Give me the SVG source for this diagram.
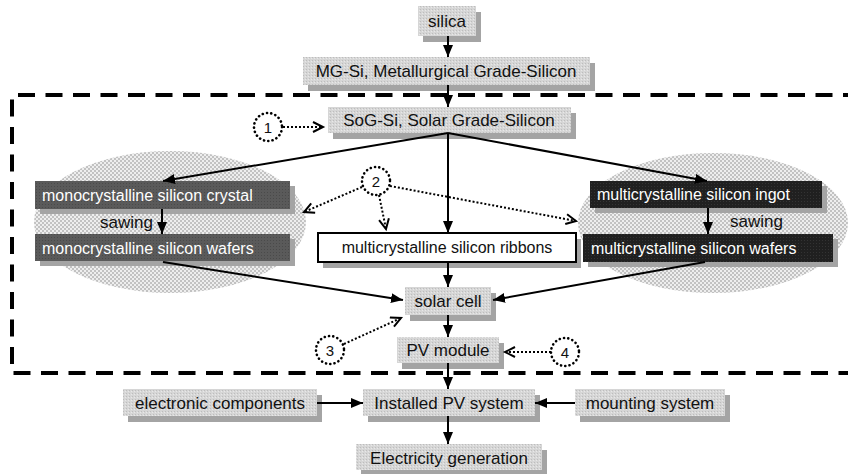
<svg xmlns="http://www.w3.org/2000/svg" width="848" height="474" viewBox="0 0 848 474">
<style>
text{font-family:"Liberation Sans",Arial,sans-serif;font-size:17px;fill:#111}
.m{text-anchor:middle}
.w{fill:#fff;font-size:16px}
.s16{font-size:16px}
.sh{fill:#a4a4a4}
.g{fill:url(#tex)}
.c{stroke:#000;stroke-width:2;fill:none}
.d{stroke:#000;stroke-width:2;stroke-dasharray:2 2;fill:none}
.circ{stroke:#000;stroke-width:2.6;stroke-dasharray:0.1 4.2;stroke-linecap:round;fill:#fff}
.num{font-size:15px}
</style>
<defs>
<pattern id="tex" width="3" height="3" patternUnits="userSpaceOnUse">
<rect width="3" height="3" fill="#d6d6d6"/><rect width="1" height="1" fill="#bdbdbd"/><rect x="2" y="1" width="1" height="1" fill="#e8e8e8"/>
</pattern>
<pattern id="ell" width="4" height="4" patternUnits="userSpaceOnUse">
<rect width="4" height="4" fill="#eeeeee"/><circle cx="1" cy="1" r="1" fill="#b4b4b4"/><circle cx="3" cy="3" r="1" fill="#b4b4b4"/>
</pattern>
<pattern id="dk1" width="3" height="3" patternUnits="userSpaceOnUse">
<rect width="3" height="3" fill="#5a5a5a"/><rect width="1" height="1" fill="#4a4a4a"/>
</pattern>
<pattern id="dk2" width="3" height="3" patternUnits="userSpaceOnUse">
<rect width="3" height="3" fill="#202020"/><rect width="1" height="1" fill="#333"/>
</pattern>
<marker id="ah" markerUnits="userSpaceOnUse" markerWidth="13" markerHeight="11" refX="12" refY="5" orient="auto">
<path d="M0,0 L12,5 L0,10 z" fill="#000"/>
</marker>
<marker id="oh" markerUnits="userSpaceOnUse" markerWidth="14" markerHeight="14" refX="11" refY="6" orient="auto">
<path d="M1,1 L11,6 L1,11" fill="none" stroke="#000" stroke-width="2"/>
</marker>
</defs>

<rect width="848" height="474" fill="#fff"/>

<g id="ellipses">
<ellipse cx="170" cy="222" rx="136" ry="71" fill="url(#ell)"/>
<ellipse cx="713" cy="223" rx="135" ry="70" fill="url(#ell)"/>
</g>

<g id="silica"><rect class="sh" x="423" y="12" width="58" height="30"/><rect class="g" x="418" y="6" width="58" height="30"/><text class="m" x="447" y="27">silica</text></g>
<g id="mgsi"><rect class="sh" x="308" y="63" width="287" height="28"/><rect class="g" x="303" y="57" width="287" height="28"/><text class="m" x="446" y="77">MG-Si, Metallurgical Grade-Silicon</text></g>
<g id="sogsi"><rect class="sh" x="333" y="113" width="243" height="26"/><rect class="g" x="328" y="107" width="243" height="26"/><text class="m" x="449" y="126">SoG-Si, Solar Grade-Silicon</text></g>

<g id="mono-crystal"><rect class="sh" x="40" y="186" width="255" height="28"/><rect fill="url(#dk1)" x="35" y="181" width="255" height="28"/><text class="w" x="42" y="201">monocrystalline silicon crystal</text></g>
<g id="mono-wafers"><rect class="sh" x="40" y="239" width="255" height="27"/><rect fill="url(#dk1)" x="35" y="234" width="255" height="27"/><text class="w" x="42" y="254">monocrystalline silicon wafers</text></g>
<g id="multi-ingot"><rect class="sh" x="595" y="186" width="232" height="27"/><rect fill="url(#dk2)" x="590" y="181" width="232" height="27"/><text class="w" x="597" y="200">multicrystalline silicon ingot</text></g>
<g id="multi-wafers"><rect class="sh" x="588" y="239" width="250" height="28"/><rect fill="url(#dk2)" x="583" y="234" width="250" height="28"/><text class="w" x="591" y="254">multicrystalline silicon wafers</text></g>
<g id="ribbons"><rect class="sh" x="323" y="239" width="258" height="29"/><rect x="318" y="233" width="258" height="29" fill="#fff" stroke="#000" stroke-width="2"/><text class="m s16" x="447" y="253">multicrystalline silicon ribbons</text></g>

<g id="sawing-labels"><text x="100" y="228">sawing</text><text x="730" y="227">sawing</text></g>

<g id="solar-cell"><rect class="sh" x="410" y="293" width="86" height="28"/><rect class="g" x="405" y="287" width="86" height="28"/><text class="m" x="448" y="307">solar cell</text></g>
<g id="pv-module"><rect class="sh" x="402" y="343" width="102" height="26"/><rect class="g" x="397" y="337" width="102" height="26"/><text class="m" x="448" y="356">PV module</text></g>
<g id="electronic"><rect class="sh" x="128" y="395" width="194" height="27"/><rect class="g" x="123" y="389" width="194" height="27"/><text class="m" x="220" y="409">electronic components</text></g>
<g id="installed"><rect class="sh" x="368" y="395" width="172" height="27"/><rect class="g" x="363" y="389" width="172" height="27"/><text class="m" x="449" y="409">Installed PV system</text></g>
<g id="mounting"><rect class="sh" x="580" y="395" width="150" height="27"/><rect class="g" x="575" y="389" width="150" height="27"/><text class="m" x="650" y="409">mounting system</text></g>
<g id="electricity"><rect class="sh" x="361" y="450" width="186" height="26"/><rect class="g" x="356" y="444" width="186" height="26"/><text class="m" x="449" y="464">Electricity generation</text></g>

<g id="c1"><circle class="circ" cx="268" cy="127" r="14"/><text class="m num" x="268" y="133">1</text></g>
<g id="c2"><circle class="circ" cx="376" cy="181" r="14"/><text class="m num" x="376" y="187">2</text></g>
<g id="c3"><circle class="circ" cx="330" cy="350" r="14"/><text class="m num" x="330" y="356">3</text></g>
<g id="c4"><circle class="circ" cx="565" cy="352" r="14"/><text class="m num" x="565" y="358">4</text></g>

<g id="connectors">
<line class="c" x1="448" y1="36" x2="448" y2="57" marker-end="url(#ah)"/>
<line class="c" x1="448" y1="85" x2="448" y2="107" marker-end="url(#ah)"/>
<line class="c" x1="448" y1="133" x2="163" y2="181" marker-end="url(#ah)"/>
<line class="c" x1="448" y1="133" x2="448" y2="233" marker-end="url(#ah)"/>
<line class="c" x1="448" y1="133" x2="707" y2="181" marker-end="url(#ah)"/>
<line class="c" x1="162" y1="209" x2="162" y2="234" marker-end="url(#ah)"/>
<line class="c" x1="708" y1="208" x2="708" y2="234" marker-end="url(#ah)"/>
<line class="c" x1="163" y1="262" x2="403" y2="300" marker-end="url(#ah)"/>
<line class="c" x1="705" y1="262" x2="493" y2="300" marker-end="url(#ah)"/>
<line class="c" x1="448" y1="262" x2="448" y2="287" marker-end="url(#ah)"/>
<line class="c" x1="448" y1="315" x2="448" y2="337" marker-end="url(#ah)"/>
<line class="c" x1="448" y1="363" x2="448" y2="389" marker-end="url(#ah)"/>
<line class="c" x1="448" y1="416" x2="448" y2="444" marker-end="url(#ah)"/>
<line class="c" x1="317" y1="403" x2="363" y2="403" marker-end="url(#ah)"/>
<line class="c" x1="575" y1="403" x2="535" y2="403" marker-end="url(#ah)"/>
<line class="d" x1="283" y1="127" x2="323" y2="127" marker-end="url(#oh)"/>
<line class="d" x1="362" y1="187" x2="304" y2="212" marker-end="url(#oh)"/>
<line class="d" x1="379" y1="195" x2="386" y2="229" marker-end="url(#oh)"/>
<line class="d" x1="390" y1="186" x2="576" y2="221" marker-end="url(#oh)"/>
<line class="d" x1="344" y1="344" x2="401" y2="318" marker-end="url(#oh)"/>
<line class="d" x1="551" y1="352" x2="505" y2="352" marker-end="url(#oh)"/>
</g>

<g id="boundary">
<path d="M860,95 H12 V373 H860" fill="none" stroke="#000" stroke-width="4" stroke-dasharray="17 10.5"/>
</g>
</svg>
